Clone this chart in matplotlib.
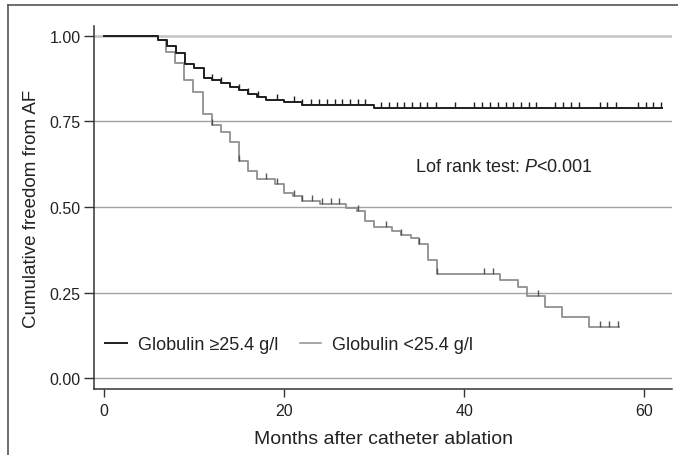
import numpy as np
import matplotlib
matplotlib.use("Agg")
import matplotlib.pyplot as plt
from matplotlib.lines import Line2D

# ---- data ----
times_hi = [0, 6.0, 7.0, 8.0, 9.0, 10.0, 11.1, 12.0, 13.0, 14.0, 15.0, 16.0, 17.0, 18.0, 20.0, 22.0, 30.0]
surv_hi = [1.0, 0.987, 0.971, 0.949, 0.917, 0.907, 0.877, 0.871, 0.862, 0.849, 0.841, 0.831, 0.821, 0.813, 0.807, 0.798, 0.789]
end_hi = 62.0
censor_hi = [12.0, 13.0, 15.0, 16.0, 17.1, 19.2, 21.1, 22.0, 23.0, 23.9, 24.7, 25.6, 26.4, 27.3, 28.2,
             29.0, 30.7, 31.6, 32.5, 33.3, 34.2, 35.1, 35.9, 36.8, 39.0, 41.1, 42.0, 42.9, 43.7, 44.6,
             45.4, 46.3, 47.2, 48.0, 50.1, 51.0, 51.9, 52.7, 55.1, 55.9, 56.8, 59.3, 60.2, 61.0, 61.9]

times_lo = [0, 6.0, 6.9, 7.9, 8.9, 9.9, 11.0, 12.0, 13.0, 14.0, 15.0, 16.0, 17.0, 19.0, 20.0, 21.0, 22.0,
            24.0, 26.9, 28.1, 29.0, 30.0, 32.0, 33.0, 34.1, 35.0, 36.0, 37.0, 44.0, 46.0, 47.0, 49.0, 50.9, 53.9]
surv_lo = [1.0, 0.987, 0.953, 0.919, 0.871, 0.837, 0.770, 0.739, 0.718, 0.690, 0.635, 0.606, 0.582, 0.568,
           0.540, 0.531, 0.517, 0.510, 0.497, 0.487, 0.460, 0.441, 0.429, 0.419, 0.409, 0.392, 0.345, 0.305,
           0.286, 0.266, 0.239, 0.209, 0.180, 0.151]
end_lo = 57.2
censor_lo = [12.0, 15.0, 18.0, 19.2, 21.1, 22.0, 23.1, 24.2, 25.2, 26.1, 28.2, 31.3, 33.0, 35.0, 37.0,
             42.2, 43.2, 48.2, 55.1, 56.1, 57.1]

labels = ["Globulin \u226525.4 g/l", "Globulin <25.4 g/l"]
xticks = [0, 20, 40, 60]
yticks = [0.0, 0.25, 0.5, 0.75, 1.0]
ytick_labels = ["0.00", "0.25", "0.50", "0.75", "1.00"]

# ---- style ----
FAM = ['Liberation Sans', 'DejaVu Sans']
plt.rcParams['font.family'] = FAM
plt.rcParams['mathtext.fontset'] = 'custom'
plt.rcParams['mathtext.rm'] = 'Liberation Sans'
plt.rcParams['mathtext.it'] = 'Liberation Sans:italic'
TXT = '#222222'

fig = plt.figure(figsize=(6.78, 4.56), dpi=100)
ax = fig.add_axes([94.3/678, 1-390/456, (672-94.3)/678, (390-27)/456])

# frame border around figure
fig.add_artist(Line2D([8/678, 8/678], [0, 1-6/456], transform=fig.transFigure, color='#555555', lw=1.2))
fig.add_artist(Line2D([8/678, 1], [1-6/456, 1-6/456], transform=fig.transFigure, color='#555555', lw=1.2))

# reference lines
for yv in yticks:
    if yv == 1.0:
        ax.axhline(yv, color='#c4c4c4', lw=1.8, zorder=1)
    else:
        ax.axhline(yv, color='#a3a3a3', lw=1.0, zorder=1)

def km(ax, times, surv, end, censor, color, tcolor, lw, label, z):
    t = list(times) + [end]
    s = list(surv) + [surv[-1]]
    ax.step(t, s, where='post', color=color, lw=lw, label=label, zorder=z)
    tarr = np.array(times)
    sarr = np.array(surv)
    idx = np.searchsorted(tarr, np.array(censor), side='right') - 1
    cs = sarr[idx]
    ax.plot(censor, cs, linestyle='none', marker=[(0, 0), (0, 1)], markersize=8.6,
            markeredgecolor=tcolor, markeredgewidth=1.0, zorder=z)

km(ax, times_lo, surv_lo, end_lo, censor_lo, '#909090', '#555555', 1.3, labels[1], 3)
km(ax, times_hi, surv_hi, end_hi, censor_hi, '#1e1e1e', '#1e1e1e', 1.4, labels[0], 4)

ax.set_xlim(-10/9, (672-104.3)/9)
ax.set_ylim(-10.7/342.6, 1 + 9.7/342.6)

ax.set_xticks(xticks)
ax.set_yticks(yticks)
ax.set_yticklabels(ytick_labels)
ax.tick_params(axis='both', colors='#333333', labelcolor=TXT, labelsize=11.5, direction='out', width=1.0)
ax.tick_params(axis='y', length=7, pad=3)
ax.tick_params(axis='x', length=6, pad=4)

for side in ['top', 'right']:
    ax.spines[side].set_visible(False)
for side in ['left', 'bottom']:
    ax.spines[side].set_color('#333333')
    ax.spines[side].set_linewidth(1.1)

ax.set_xlabel("Months after catheter ablation", fontsize=14, color=TXT, labelpad=9)
ax.set_ylabel("Cumulative freedom from AF", fontsize=13.5, color=TXT, labelpad=7)

ax.text((415-104.3)/9, 0.618, "Lof rank test: $P$<0.001", fontsize=13, color=TXT, ha='left', va='center')

h_hi = Line2D([0], [0], color='#1e1e1e', lw=1.4)
h_lo = Line2D([0], [0], color='#909090', lw=1.1)
ax.legend([h_hi, h_lo], labels, loc='lower left', bbox_to_anchor=(0.0, 0.068), ncol=2, frameon=False,
          fontsize=13, handlelength=1.2, handletextpad=0.6, columnspacing=1.2, labelcolor=TXT,
          borderaxespad=0.2)

fig.savefig("out.png", dpi=100)
